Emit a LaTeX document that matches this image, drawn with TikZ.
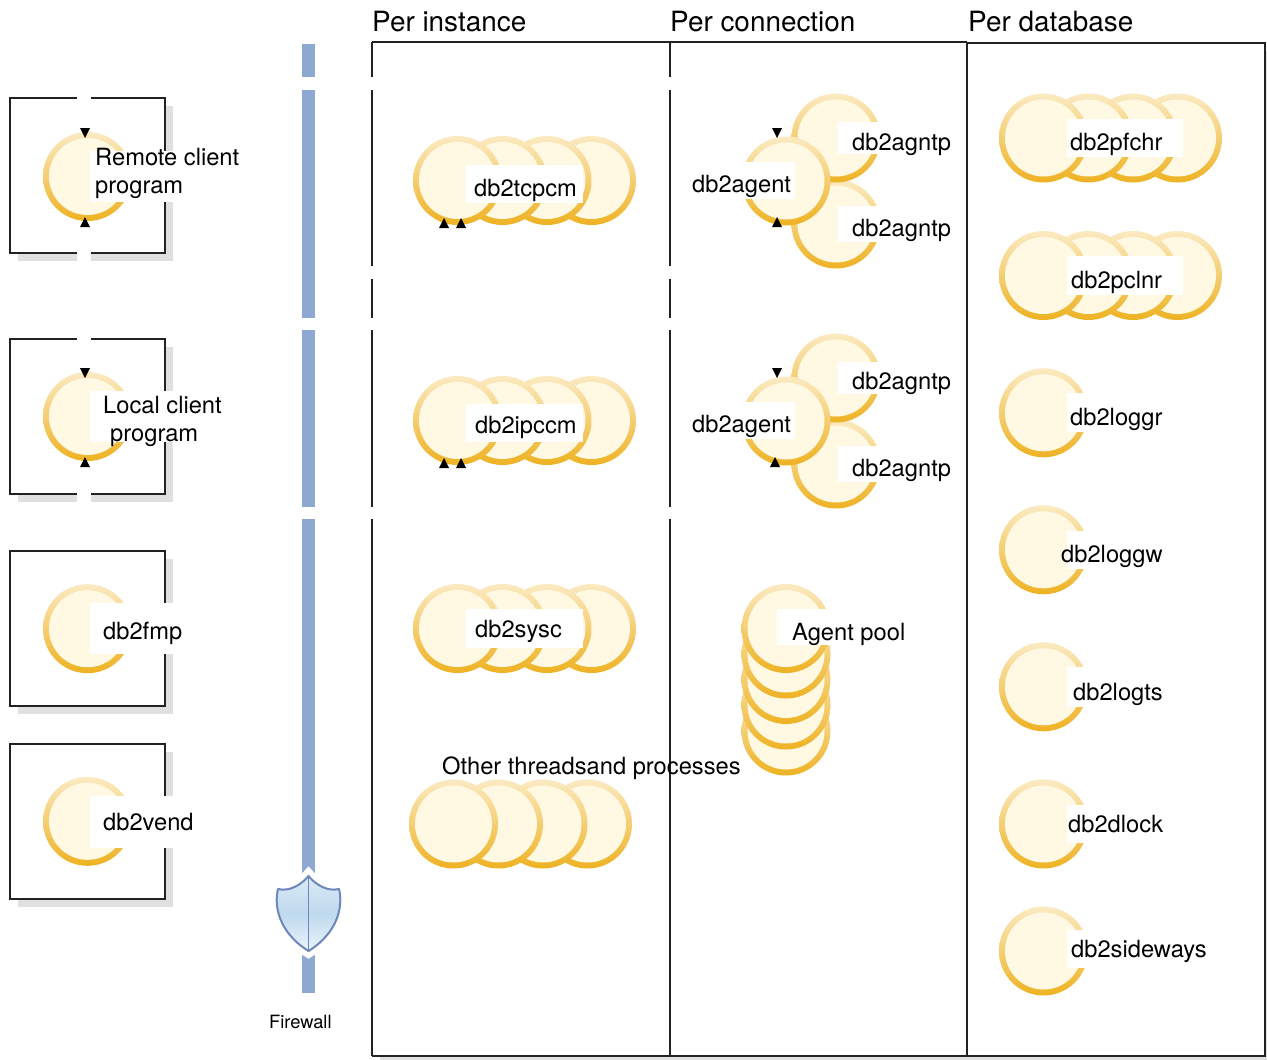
\documentclass[tikz,border=0pt]{standalone}
\usepackage{fontspec}
\setmainfont{TeX Gyre Heros}
\definecolor{ringtop}{HTML}{FBEAC2}
\definecolor{ringbot}{HTML}{EEB222}
\definecolor{disc}{HTML}{FFF9E3}
\definecolor{barblue}{HTML}{8DA9D1}
\definecolor{shieldline}{HTML}{6C87BB}
\definecolor{shieldmid}{HTML}{BFD9EE}
\definecolor{shieldtop}{HTML}{DCEAF6}
\definecolor{shieldend}{HTML}{EAF4FA}
\definecolor{shadowgray}{HTML}{E0E0E0}
\definecolor{ink}{HTML}{222222}
\tikzset{
  ringdisc/.style={circle,minimum size=89pt,inner sep=0pt,top color=ringtop,bottom color=ringbot},
  inddisc/.style={circle,minimum size=77pt,inner sep=0pt,fill=disc},
  lbl/.style={anchor=base west,inner sep=0pt,font=\fontsize{23.7}{28}\selectfont,text=black},
  headlbl/.style={anchor=base west,inner sep=0pt,font=\fontsize{27.9}{32}\selectfont,text=black},
  smalllbl/.style={anchor=base west,inner sep=0pt,font=\fontsize{18.3}{22}\selectfont,text=black},
  panelrule/.style={draw=ink,line width=1.5pt,line cap=butt},
  maskfill/.style={fill=white,draw=none},
  tipfill/.style={fill=black,draw=none}
}
% one process circle
\newcommand{\ringat}[2]{\node[ringdisc] at (#1,#2) {};\node[inddisc] at (#1,#2) {};}
% four overlapping circles, rightmost first
\newcommand{\fourat}[2]{%
  \ringat{#1+134}{#2}\ringat{#1+89.5}{#2}\ringat{#1+45}{#2}\ringat{#1}{#2}}
% white label patch: x0 y0 x1 y1
\newcommand{\patch}[4]{\fill[maskfill] (#1,#2) rectangle (#3,#4);}
\newcommand{\tipup}[2]{\fill[tipfill] (#1-5,#2+5) -- (#1+5,#2+5) -- (#1,#2-5) -- cycle;}
\newcommand{\tipdown}[2]{\fill[tipfill] (#1-5,#2-5) -- (#1+5,#2-5) -- (#1,#2+5) -- cycle;}
% client box with shadow: top y
\newcommand{\clientbox}[1]{%
  \fill[shadowgray] (18,#1+8) rectangle (173,#1+163);
  \fill[white] (10,#1) rectangle (165,#1+155);
  \draw[panelrule] (10,#1) rectangle (165,#1+155);}
\begin{document}
\begin{tikzpicture}[x=1pt,y=-1pt]
\useasboundingbox (0,0) rectangle (1267,1060);
\fill[white] (0,0) rectangle (1267,1060);
% panel shadow
\fill[shadowgray] (380,1056) rectangle (1267,1060);
\fill[shadowgray] (1265,51) rectangle (1267,1060);
% panels
\draw[panelrule] (372,42) -- (967,42);
\draw[panelrule] (967,43) -- (1265,43) -- (1265,1056) -- (372,1056);
\draw[panelrule] (967,42) -- (967,1056);
\foreach \xx in {372,670}{
  \draw[panelrule] (\xx,42) -- (\xx,77);
  \draw[panelrule] (\xx,90) -- (\xx,266);
  \draw[panelrule] (\xx,279) -- (\xx,318);
  \draw[panelrule] (\xx,330) -- (\xx,507);
  \draw[panelrule] (\xx,519) -- (\xx,1056);
}
% headers
\node[headlbl] (hinst) at (372,31) {Per instance};
\node[headlbl] (hconn) at (670,31) {Per connection};
\node[headlbl] (hdb) at (968,31) {Per database};
% firewall bar
\foreach \ya/\yb in {44/77,90/318,330/507,519/993}{
  \fill[barblue] (302,\ya) rectangle (315,\yb);
}
% shield
\def\shieldpath{(308.5,876) .. controls (302,884) and (290,892) .. (278,889) .. controls (274,905) and (278,932) .. (308.5,951) .. controls (339,932) and (343,905) .. (339,889) .. controls (327,892) and (315,884) .. (308.5,876) -- cycle}
\draw[white,line width=13pt,miter limit=10] \shieldpath;
\shade[top color=shieldtop,bottom color=shieldend,middle color=shieldmid] \shieldpath;
\draw[shieldline,line width=2pt,line join=round] \shieldpath;
\draw[shieldline,line width=1.4pt] (308.5,876) -- (308.5,951);
\node[smalllbl] (fw) at (269,1028) {Firewall};
% client boxes
\clientbox{98}
\clientbox{339}
\clientbox{551}
\clientbox{744}
\fill[maskfill] (77,90) rectangle (91,104);
\fill[maskfill] (77,247) rectangle (91,265);
\fill[maskfill] (77,331) rectangle (91,345);
\fill[maskfill] (77,488) rectangle (91,506);
\ringat{87.5}{176.5}
\ringat{87.5}{416.5}
\ringat{87.5}{628.7}
\ringat{87.5}{821.3}
\patch{90}{151}{245}{202}
\patch{90}{391}{228}{442}
\patch{90}{603}{173}{654}
\patch{90}{796}{200}{848}
\tipdown{85}{133}\tipup{85}{222}
\tipdown{85}{373}\tipup{85}{462}
\node[lbl] (remote) at (95,165) {Remote client};
\node[lbl] (remoteb) at (95,193) {program};
\node[lbl] (local) at (103,413) {Local client};
\node[lbl] (localb) at (110,441) {program};
\node[lbl] (fmp) at (103,639) {db2fmp};
\node[lbl] (vend) at (103,830) {db2vend};
% per instance
\fourat{457.5}{180.5}
\patch{466}{165}{583}{203}
\tipup{444}{223}\tipup{461}{223}
\node[lbl] (tcpcm) at (474,196) {db2tcpcm};
\fourat{457.5}{420.5}
\patch{466}{404}{583}{442}
\tipup{444}{463}\tipup{461}{463}
\node[lbl] (ipccm) at (475,433) {db2ipccm};
\fourat{457.5}{628.5}
\patch{466}{609}{583}{648}
\node[lbl] (sysc) at (475,637) {db2sysc};
\fourat{453.5}{824}
\node[lbl] (other) at (442,774) {Other threadsand processes};
% per connection
\foreach \dy in {0,240}{
  \ringat{836}{224+\dy}
  \ringat{836}{138+\dy}
  \patch{838}{122+\dy}{951}{154+\dy}
  \patch{838}{206+\dy}{951}{242+\dy}
  \ringat{786}{181+\dy}
  \patch{692}{162+\dy}{795}{199+\dy}
}
\tipdown{777}{133}\tipup{777}{222}
\tipdown{777}{373}\tipup{775}{462}
\node[lbl] (agenta) at (692,192) {db2agent};
\node[lbl] (ntpa) at (852,150) {db2agntp};
\node[lbl] (ntpb) at (852,236) {db2agntp};
\node[lbl] (agentb) at (692,432) {db2agent};
\node[lbl] (ntpc) at (852,389) {db2agntp};
\node[lbl] (ntpd) at (852,476) {db2agntp};
% agent pool
\foreach \yy in {731,705,679.5,654,628.5}{\ringat{786}{\yy}}
\patch{777}{609}{905}{645}
\node[lbl] (pool) at (792,640) {Agent pool};
% per database
\fourat{1043.5}{138}
\patch{1067}{119}{1183}{157}
\node[lbl] (pfchr) at (1070,150) {db2pfchr};
\fourat{1043.5}{275.5}
\patch{1067}{256}{1183}{295}
\node[lbl] (pclnr) at (1071,288) {db2pclnr};
\ringat{1043.5}{412.8}
\patch{1067}{393}{1165}{432}
\node[lbl] (loggr) at (1070,425) {db2loggr};
\ringat{1043.5}{549.8}
\patch{1067}{531}{1165}{569}
\node[lbl] (loggw) at (1061,562) {db2loggw};
\ringat{1043.5}{686.8}
\patch{1067}{667}{1165}{707}
\node[lbl] (logts) at (1073,700) {db2logts};
\ringat{1043.5}{824}
\patch{1067}{805}{1165}{843}
\node[lbl] (dlock) at (1068,832) {db2dlock};
\ringat{1043.5}{951}
\patch{1067}{930}{1210}{968}
\node[lbl] (side) at (1071,957) {db2sideways};
\end{tikzpicture}
\end{document}
